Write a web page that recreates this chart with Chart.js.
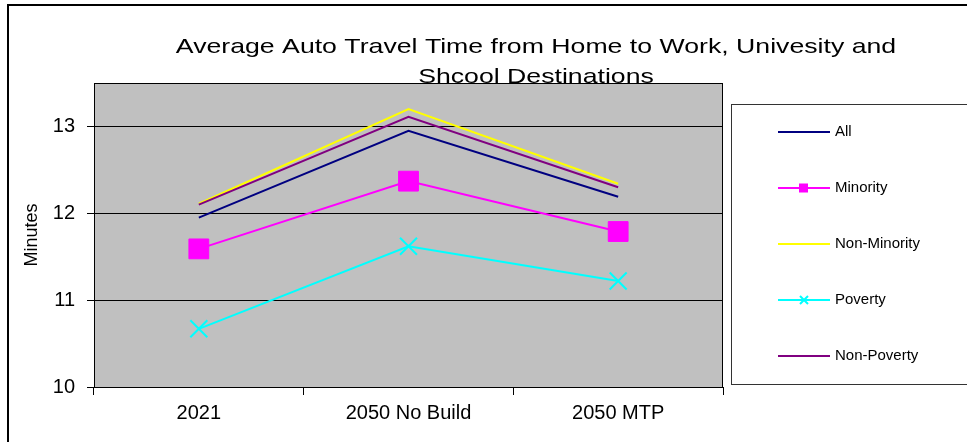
<!DOCTYPE html>
<html>
<head>
<meta charset="utf-8">
<script src="https://cdn.jsdelivr.net/npm/chart.js@4"></script>
<style>
  html, body { margin: 0; padding: 0; background: #fff; }
  canvas { display: block; }
</style>
</head>
<body>
<canvas id="travelChart" width="967" height="442"></canvas>
<script>
// 차트 데이터
const categories = ["2021", "2050 No Build", "2050 MTP"];
const seriesNames = ["All", "Minority", "Non-Minority", "Poverty", "Non-Poverty"];
const allValues = [11.95, 12.95, 12.19];
const minorityValues = [11.59, 12.37, 11.79];
const nonMinorityValues = [12.11, 13.2, 12.34];
const povertyValues = [10.67, 11.62, 11.22];
const nonPovertyValues = [12.1, 13.11, 12.3];
const yTicks = [10, 11, 12, 13];
const titleLines = [
  "Average Auto Travel Time from Home to Work, Univesity and",
  "Shcool Destinations",
];

const FONT = "'Liberation Sans', Arial, sans-serif";

// 배경, 테두리, 제목, 범례를 그리는 플러그인
const decorPlugin = {
  id: "decor",
  beforeDraw(chart) {
    const { ctx, chartArea: a } = chart;
    ctx.save();
    ctx.fillStyle = "#fff";
    ctx.fillRect(0, 0, chart.width, chart.height);
    // 바깥 테두리 (위, 왼쪽)
    ctx.strokeStyle = "#000";
    ctx.lineWidth = 2;
    ctx.beginPath();
    ctx.moveTo(8, chart.height);
    ctx.lineTo(8, 5);
    ctx.lineTo(chart.width, 5);
    ctx.stroke();
    // 플롯 영역 배경
    ctx.fillStyle = "#C0C0C0";
    ctx.fillRect(a.left, a.top, a.right - a.left, a.bottom - a.top);
    ctx.restore();
  },
  afterDraw(chart) {
    const { ctx, chartArea: a } = chart;
    ctx.save();
    ctx.strokeStyle = "#000";
    ctx.lineWidth = 1;
    ctx.strokeRect(a.left + 0.5, a.top + 0.5, a.right - a.left - 1, a.bottom - a.top);

    // 제목
    ctx.fillStyle = "#000";
    ctx.font = "21px " + FONT;
    ctx.textAlign = "center";
    ctx.textBaseline = "alphabetic";
    titleLines.forEach((line, i) => {
      ctx.save();
      ctx.translate(536, 53 + i * 30);
      ctx.scale(1.27, 1);
      ctx.fillText(line, 0, 0);
      ctx.restore();
    });

    // 범례
    ctx.strokeStyle = "#333";
    ctx.strokeRect(731.5, 104.5, 260, 280);
    ctx.font = "15px " + FONT;
    ctx.textAlign = "left";
    ctx.textBaseline = "middle";
    chart.data.datasets.forEach((ds, i) => {
      const y = 132 + i * 56;
      ctx.strokeStyle = ds.borderColor;
      ctx.lineWidth = 2;
      ctx.beginPath();
      ctx.moveTo(778, y);
      ctx.lineTo(830, y);
      ctx.stroke();
      if (ds.pointStyle === "rect" && ds.pointRadius > 0) {
        ctx.fillStyle = ds.backgroundColor;
        ctx.fillRect(799, y - 4.5, 9, 9);
      } else if (ds.pointStyle === "crossRot" && ds.pointRadius > 0) {
        ctx.beginPath();
        ctx.moveTo(800, y - 4);
        ctx.lineTo(808, y + 4);
        ctx.moveTo(808, y - 4);
        ctx.lineTo(800, y + 4);
        ctx.stroke();
      }
      ctx.fillStyle = "#000";
      ctx.fillText(ds.label, 835, y);
    });
    ctx.restore();
  },
};

function makeSeries(label, data, color, extra) {
  return Object.assign(
    {
      label: label,
      data: data,
      borderColor: color,
      backgroundColor: color,
      borderWidth: 2,
      pointRadius: 0,
      pointStyle: "circle",
      tension: 0,
    },
    extra || {}
  );
}

const datasets = [
  makeSeries(seriesNames[0], allValues, "#000080", { order: 5 }),
  makeSeries(seriesNames[1], minorityValues, "#FF00FF", {
    order: 4, pointStyle: "rect", pointRadius: 14, pointBorderWidth: 1,
  }),
  makeSeries(seriesNames[2], nonMinorityValues, "#FFFF00", { order: 3 }),
  makeSeries(seriesNames[3], povertyValues, "#00FFFF", {
    order: 2, pointStyle: "crossRot", pointRadius: 12, pointBorderWidth: 2,
  }),
  makeSeries(seriesNames[4], nonPovertyValues, "#800080", { order: 1 }),
];

const chart = new Chart(document.getElementById("travelChart").getContext("2d"), {
  type: "line",
  data: { labels: categories, datasets: datasets },
  plugins: [decorPlugin],
  options: {
    responsive: false,
    animation: false,
    devicePixelRatio: 1,
    layout: { padding: { left: 0, top: 83, right: 244, bottom: 0 } },
    plugins: {
      legend: { display: false },
      title: { display: false },
      tooltip: { enabled: false },
    },
    scales: {
      x: {
        offset: true,
        grid: {
          offset: true,
          drawOnChartArea: false,
          color: "#000",
          tickLength: 8,
        },
        border: { color: "#000" },
        ticks: { color: "#000", font: { family: FONT, size: 20 }, padding: 6 },
        afterFit(scale) { scale.height = 55; },
      },
      y: {
        min: 10,
        max: 13.5,
        afterBuildTicks(scale) {
          scale.ticks = yTicks.map((v) => ({ value: v }));
        },
        grid: { color: "#000", tickLength: 7, tickColor: "#000" },
        border: { color: "#000" },
        ticks: { color: "#000", font: { family: FONT, size: 20 }, padding: 12 },
        title: {
          display: true,
          text: "Minutes",
          color: "#000",
          font: { family: FONT, size: 18 },
          padding: { top: 21, bottom: 0 },
        },
        afterFit(scale) { scale.width = 94; },
      },
    },
  },
});
</script>
</body>
</html>
